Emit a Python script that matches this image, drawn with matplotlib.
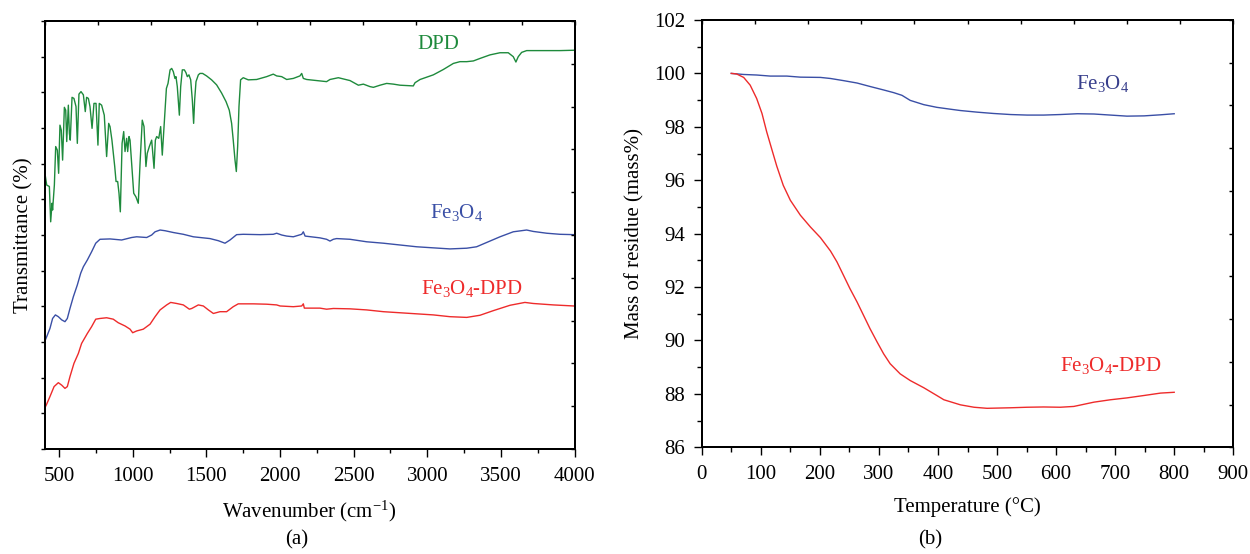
#!/usr/bin/env python

import numpy as np
import matplotlib
matplotlib.use("Agg")
import matplotlib.pyplot as plt

plt.rcParams['font.family'] = ['Liberation Serif', 'DejaVu Serif']
plt.rcParams['mathtext.fontset'] = 'custom'
plt.rcParams['mathtext.rm'] = 'Liberation Serif'
plt.rcParams['mathtext.it'] = 'Liberation Serif:italic'
plt.rcParams['axes.linewidth'] = 1.3

# ---- panel (a): FTIR spectra (transmittance in arbitrary units, 0..12)
dpd_wn = [401, 415, 433, 442, 451, 455, 460, 467, 476, 487, 496, 505, 514, 523, 535, 544, 551,
          562, 569, 575, 587, 600, 614, 623, 634, 648, 664, 677, 686, 698, 709, 723, 736, 750,
          763, 772, 788, 806, 822, 836, 845, 858, 877, 886, 897, 906, 915, 927, 938, 947, 958,
          965, 974, 981, 992, 1006, 1021, 1037, 1049, 1064, 1076, 1089, 1098, 1112, 1128, 1144,
          1153, 1162, 1176, 1189, 1200, 1212, 1228, 1239, 1253, 1264, 1275, 1286, 1293, 1302,
          1316, 1325, 1336, 1350, 1361, 1370, 1381, 1393, 1404, 1413, 1420, 1429, 1445, 1456,
          1474, 1501, 1535, 1569, 1603, 1633, 1655, 1671, 1682, 1694, 1703, 1712, 1721, 1732,
          1750, 1784, 1841, 1909, 1954, 1977, 2011, 2045, 2090, 2135, 2147, 2158, 2181, 2249,
          2316, 2339, 2396, 2475, 2532, 2566, 2611, 2634, 2679, 2724, 2770, 2815, 2860, 2905,
          2917, 2951, 3041, 3109, 3177, 3222, 3268, 3313, 3358, 3426, 3494, 3550, 3584, 3602,
          3618, 3641, 3675, 3766, 3901, 3996]
dpd_t = [7.78, 7.40, 7.36, 6.37, 6.89, 6.70, 6.98, 7.40, 8.48, 8.38, 7.73, 9.08, 8.94, 8.10,
         9.58, 9.50, 8.62, 9.64, 8.85, 8.66, 9.86, 9.83, 9.60, 8.57, 9.95, 10.02, 9.93, 9.46,
         9.86, 9.83, 9.60, 8.99, 9.69, 9.69, 8.52, 9.69, 9.64, 9.36, 8.20, 9.13, 9.04, 8.66,
         7.92, 7.50, 7.50, 7.17, 6.65, 8.57, 8.90, 8.34, 8.71, 8.34, 8.76, 8.66, 8.01, 7.17,
         7.07, 6.89, 8.01, 9.22, 9.04, 7.92, 8.29, 8.48, 8.66, 7.87, 8.66, 8.76, 8.71, 9.04,
         8.24, 9.04, 10.11, 10.25, 10.63, 10.67, 10.58, 10.39, 10.44, 10.16, 9.36, 10.16,
         10.63, 10.63, 10.55, 10.44, 10.49, 10.35, 9.79, 9.13, 9.79, 10.30, 10.49, 10.53,
         10.53, 10.46, 10.35, 10.21, 9.98, 9.74, 9.50, 9.13, 8.66, 8.10, 7.78, 8.48, 9.60,
         10.35, 10.41, 10.35, 10.36, 10.44, 10.51, 10.46, 10.44, 10.36, 10.39, 10.46, 10.53,
         10.39, 10.36, 10.33, 10.30, 10.36, 10.41, 10.33, 10.20, 10.23, 10.16, 10.14, 10.20,
         10.25, 10.23, 10.20, 10.19, 10.18, 10.27, 10.36, 10.49, 10.64, 10.81, 10.86, 10.86,
         10.88, 10.95, 11.05, 11.11, 11.11, 11.00, 10.85, 11.00, 11.12, 11.17, 11.17, 11.17,
         11.18]

fe_wn = [401, 415, 437, 455, 474, 494, 517, 539, 555, 573, 596, 623, 646, 664, 691, 720, 748,
         777, 845, 924, 992, 1026, 1094, 1128, 1151, 1185, 1219, 1275, 1343, 1411, 1456, 1524,
         1581, 1626, 1660, 1705, 1750, 1864, 1954, 1977, 2011, 2045, 2090, 2147, 2158, 2170,
         2271, 2316, 2339, 2362, 2384, 2475, 2588, 2702, 2815, 2928, 3041, 3154, 3268, 3335,
         3403, 3494, 3584, 3675, 3720, 3811, 3901, 3996]
fe_t = [3.01, 3.15, 3.38, 3.66, 3.76, 3.71, 3.62, 3.57, 3.66, 3.94, 4.27, 4.60, 4.93, 5.11,
        5.30, 5.53, 5.77, 5.88, 5.89, 5.86, 5.93, 5.95, 5.93, 6.00, 6.09, 6.14, 6.12, 6.07,
        6.02, 5.95, 5.93, 5.90, 5.84, 5.77, 5.86, 6.01, 6.02, 6.01, 6.02, 6.05, 6.00, 5.97,
        5.95, 6.02, 6.09, 5.97, 5.92, 5.88, 5.83, 5.88, 5.90, 5.88, 5.81, 5.77, 5.72, 5.67,
        5.64, 5.61, 5.63, 5.67, 5.79, 5.95, 6.09, 6.14, 6.10, 6.05, 6.02, 6.01]

fedpd_wn = [401, 415, 437, 465, 494, 517, 539, 555, 573, 600, 630, 652, 691, 720, 748, 777,
            822, 867, 901, 947, 981, 999, 1026, 1071, 1117, 1151, 1185, 1230, 1257, 1298, 1343,
            1384, 1400, 1445, 1479, 1513, 1547, 1592, 1637, 1682, 1716, 1818, 1909, 1977, 2000,
            2090, 2147, 2158, 2165, 2271, 2316, 2362, 2475, 2588, 2702, 2815, 2928, 3041, 3154,
            3268, 3358, 3449, 3562, 3663, 3720, 3856, 3996]
fedpd_t = [1.14, 1.26, 1.47, 1.75, 1.86, 1.79, 1.70, 1.75, 2.03, 2.40, 2.68, 2.96, 3.24, 3.43,
           3.64, 3.66, 3.68, 3.64, 3.54, 3.45, 3.36, 3.26, 3.31, 3.36, 3.50, 3.71, 3.90, 4.04,
           4.11, 4.08, 4.04, 3.92, 3.94, 4.04, 4.01, 3.90, 3.80, 3.85, 3.85, 3.99, 4.07, 4.07,
           4.06, 4.04, 4.01, 3.99, 4.01, 4.07, 3.95, 3.95, 3.92, 3.94, 3.93, 3.90, 3.85, 3.82,
           3.79, 3.76, 3.71, 3.69, 3.75, 3.88, 4.03, 4.11, 4.08, 4.04, 4.01]

# ---- panel (b): TGA curves
tga_fe_T = [50, 71, 93, 116, 144, 167, 201, 218, 240, 263, 285, 308, 325, 339, 353, 376, 398,
            421, 438, 466, 494, 523, 551, 579, 607, 636, 664, 692, 720, 749, 777, 800]
tga_fe_m = [100.0, 99.96, 99.94, 99.90, 99.90, 99.86, 99.85, 99.81, 99.73, 99.64, 99.51, 99.38,
            99.28, 99.18, 98.99, 98.83, 98.73, 98.66, 98.61, 98.55, 98.50, 98.46, 98.44, 98.44,
            98.46, 98.49, 98.48, 98.44, 98.40, 98.41, 98.45, 98.49]

tga_fedpd_T = [50, 59, 71, 82, 93, 102, 110, 119, 127, 138, 150, 167, 184, 201, 218, 229, 240,
               251, 263, 274, 285, 297, 308, 319, 336, 353, 376, 398, 410, 438, 461, 483, 523,
               551, 579, 607, 630, 664, 692, 720, 749, 777, 800]
tga_fedpd_m = [100.0, 99.98, 99.85, 99.56, 99.06, 98.50, 97.81, 97.13, 96.53, 95.81, 95.25,
               94.69, 94.25, 93.85, 93.35, 92.94, 92.44, 91.94, 91.44, 90.94, 90.44, 89.94,
               89.50, 89.13, 88.75, 88.50, 88.23, 87.94, 87.78, 87.59, 87.50, 87.46, 87.48,
               87.50, 87.51, 87.50, 87.53, 87.69, 87.78, 87.85, 87.94, 88.03, 88.06]

green = '#1e8a3c'
blue = '#3a4fa6'
red = '#ee2b2b'
navy = '#383f8c'
fs = 15


def frame_ticks(ax):
    """ short inward ticks on top and right, 10 divisions each """
    top = ax.twiny()
    top.set_xlim(0, 10)
    top.set_xticks(np.arange(11))
    top.tick_params(axis='x', direction='in', length=3, width=1, labeltop=False)
    right = top.twinx()
    right.set_ylim(0, 10)
    right.set_yticks(np.arange(11))
    right.tick_params(axis='y', direction='in', length=3, width=1, labelright=False)


fig = plt.figure(figsize=(12.5, 5.54), dpi=100)
ax1 = fig.add_axes([0.0356, 0.1895, 0.424, 0.7726])
ax2 = fig.add_axes([0.5614, 0.1926, 0.4252, 0.7713])

# panel (a)
ax1.plot(dpd_wn, dpd_t, color=green, lw=1.0)
ax1.plot(fe_wn, fe_t, color=blue, lw=1.0)
ax1.plot(fedpd_wn, fedpd_t, color=red, lw=1.0)
ax1.set_xlim(400, 4000)
ax1.set_ylim(0, 12)
ax1.set_xticks(np.arange(500, 4001, 500))
ax1.set_xticks(np.arange(750, 4000, 500), minor=True)
ax1.set_yticks(np.arange(0, 13))
ax1.set_yticklabels([])
ax1.tick_params(axis='x', which='major', direction='out', length=6, width=1, labelsize=fs, pad=7)
ax1.tick_params(axis='x', which='minor', direction='out', length=3, width=1)
ax1.tick_params(axis='y', direction='out', length=3, width=1)
ax1.set_xlabel(r'Wavenumber (cm$^{-1}$)', fontsize=fs, labelpad=9)
ax1.set_ylabel('Transmittance (%)', fontsize=fs, labelpad=1.5)
ax1.text(3075, 11.33, 'DPD', color=green, fontsize=fs, ha='center', va='center')
ax1.text(3200, 6.62, r'Fe$_3$O$_4$', color=blue, fontsize=fs, ha='center', va='center')
ax1.text(3300, 4.51, r'Fe$_3$O$_4$-DPD', color=red, fontsize=fs, ha='center', va='center')
frame_ticks(ax1)

# panel (b)
ax2.plot(tga_fe_T, tga_fe_m, color=blue, lw=1.0)
ax2.plot(tga_fedpd_T, tga_fedpd_m, color=red, lw=1.0)
ax2.set_xlim(0, 900)
ax2.set_ylim(86, 102)
ax2.set_xticks(np.arange(0, 901, 100))
ax2.set_xticks(np.arange(50, 900, 100), minor=True)
ax2.set_yticks(np.arange(86, 103, 2))
ax2.set_yticks(np.arange(87, 102, 2), minor=True)
ax2.tick_params(axis='both', which='major', direction='out', length=6, width=1, labelsize=fs, pad=7)
ax2.tick_params(axis='y', which='major', pad=6)
ax2.tick_params(axis='both', which='minor', direction='out', length=3.5, width=1)
ax2.set_xlabel('Temperature (°C)', fontsize=fs, labelpad=9)
ax2.set_ylabel('Mass of residue (mass%)', fontsize=fs, labelpad=7)
ax2.text(678, 99.63, r'Fe$_3$O$_4$', color=navy, fontsize=fs, ha='center', va='center')
ax2.text(692, 89.06, r'Fe$_3$O$_4$-DPD', color=red, fontsize=fs, ha='center', va='center')
frame_ticks(ax2)

fig.text(0.2374, 0.0253, '(a)', fontsize=fs, ha='center', va='center')
fig.text(0.744, 0.0253, '(b)', fontsize=fs, ha='center', va='center')

fig.savefig('out.png', dpi=100)
